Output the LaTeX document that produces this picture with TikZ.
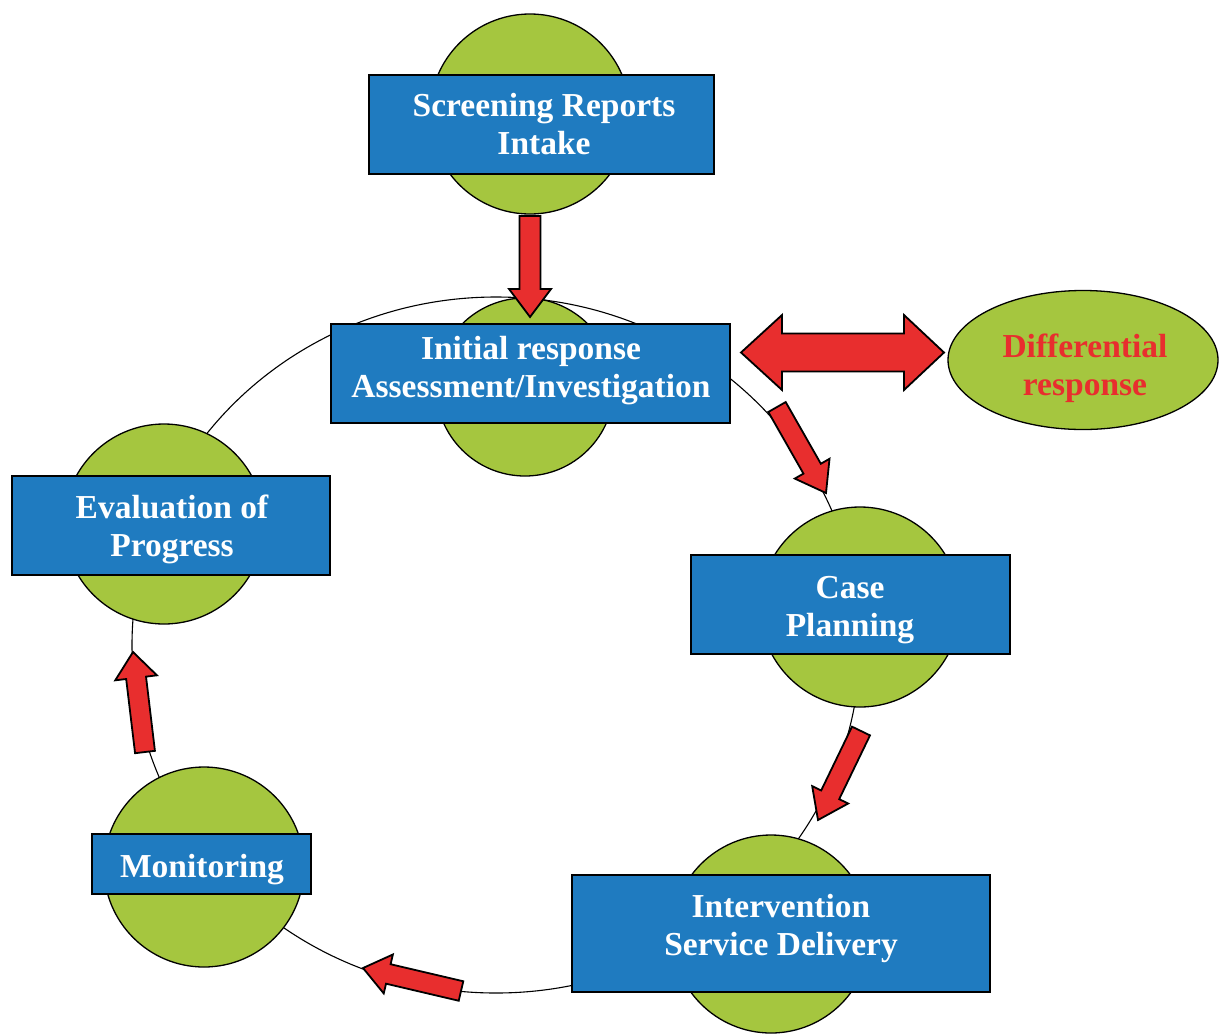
\documentclass[tikz,border=0pt]{standalone}
\usepackage{fontspec}
\setmainfont{Liberation Serif}
\usetikzlibrary{calc,shapes.geometric}
\definecolor{boxblue}{HTML}{1F7BC0}
\definecolor{leaf}{HTML}{A5C63F}
\definecolor{arrred}{HTML}{E82E2E}
\tikzset{
  greencirc/.style={circle,draw=black,line width=1.3pt,fill=leaf,inner sep=0pt,minimum size=200pt},
  bluebox/.style={rectangle,draw=black,line width=1.8pt,fill=boxblue,inner sep=0pt},
  boxtext/.style={text=white,align=center,anchor=base,inner sep=0pt,
     font=\fontsize{33.5}{38}\selectfont\bfseries},
  arrowbody/.style={draw=black,line width=1.8pt,fill=arrred,line join=miter},
}
\newcommand\blockarr[5]{%
  \coordinate (bah) at ($(#2)!#5!(#1)$);
  \draw[arrowbody] ($(#1)!#3!90:(#2)$) -- ($(bah)!#3!90:(#2)$) -- ($(bah)!#4!90:(#2)$) -- (#2)
     -- ($(bah)!#4!-90:(#2)$) -- ($(bah)!#3!-90:(#2)$) -- ($(#1)!#3!-90:(#2)$) -- cycle;
}
\begin{document}
\begin{tikzpicture}[x=1pt,y=-1pt]
\useasboundingbox (0,0) rectangle (1228,1034);
\fill[white] (0,0) rectangle (1228,1034);
% big cycle
\node[ellipse,draw=black,line width=1.1pt,minimum width=728pt,minimum height=696pt,inner sep=0pt] (ring) at (496,645) {};
% green circles
\node[greencirc] (c1) at (530,114) {};
\node[greencirc,minimum size=178pt] (c2) at (525,387) {};
\node[greencirc] (c3) at (860,607) {};
\node[greencirc,minimum size=198pt] (c4) at (771,934) {};
\node[greencirc] (c5) at (204,867) {};
\node[greencirc] (c6) at (164,524) {};
% blue boxes
\node[bluebox,minimum width=345pt,minimum height=99pt] (b1) at (541.5,124.5) {};
\node[bluebox,minimum width=399pt,minimum height=99pt] (b2) at (530.5,373.5) {};
\node[bluebox,minimum width=319pt,minimum height=99pt] (b3) at (850.5,604.5) {};
\node[bluebox,minimum width=418pt,minimum height=117pt] (b4) at (781,933.5) {};
\node[bluebox,minimum width=219pt,minimum height=60pt] (b5) at (201.5,864) {};
\node[bluebox,minimum width=318pt,minimum height=99pt] (b6) at (171,525.5) {};
% box texts (anchor = baseline of last line)
\node[boxtext] (t1) at (544,154) {Screening Reports\\Intake};
\node[boxtext] (t2) at (531,397) {Initial response\\Assessment/Investigation};
\node[boxtext] (t3) at (850,636) {Case\\Planning};
\node[boxtext] (t4) at (781,955) {Intervention\\Service Delivery};
\node[boxtext] (t5) at (202,877) {Monitoring};
\node[boxtext] (t6) at (172,556) {Evaluation of\\Progress};
% differential response
\node[ellipse,draw=black,line width=1.3pt,fill=leaf,minimum width=270pt,minimum height=139pt,inner sep=0pt] (dr) at (1083,360) {};
\node[boxtext,text=arrred] (tdr) at (1085,395) {Differential\\response};
% arrow end points
\coordinate (a1s) at (530,216); \coordinate (a1e) at (530,317);
\coordinate (a2s) at (777,407); \coordinate (a2e) at (826,493);
\coordinate (a3s) at (861,731); \coordinate (a3e) at (818,820);
\coordinate (a4s) at (461,991); \coordinate (a4e) at (363,968);
\coordinate (a5s) at (145,752); \coordinate (a5e) at (133,652);
\blockarr{a1s}{a1e}{10.5pt}{21pt}{28pt}
\blockarr{a2s}{a2e}{10pt}{20pt}{28pt}
\blockarr{a3s}{a3e}{10pt}{20pt}{28pt}
\blockarr{a4s}{a4e}{10pt}{20pt}{26pt}
\blockarr{a5s}{a5e}{10pt}{21pt}{26pt}
% double arrow
\coordinate (dl) at (741,352.5); \coordinate (drt) at (944,352.5);
\draw[arrowbody] (dl) -- ++(41,-37.5) -- ++(0,18.5) -- ++(122,0) -- ++(0,-18.5) -- (drt)
   -- ++(-40,37.5) -- ++(0,-18.5) -- ++(-122,0) -- ++(0,18.5) -- cycle;
\end{tikzpicture}
\end{document}
